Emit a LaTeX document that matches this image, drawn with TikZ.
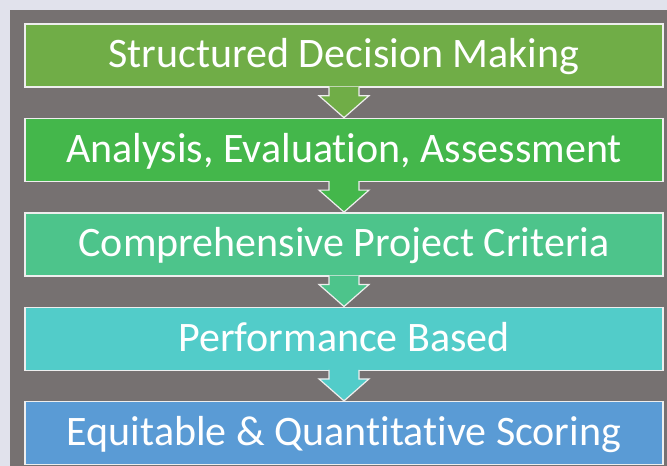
\documentclass[tikz,border=0pt]{standalone}
\usepackage{fontspec}
\setmainfont{Carlito}[Ligatures=NoCommon]
\usepackage{tikz}
\usetikzlibrary{positioning}
\definecolor{pageLavender}{HTML}{E1E2EC}
\definecolor{panelGrey}{HTML}{767171}
\definecolor{edgeWhite}{HTML}{EEEEEE}
\definecolor{oliveGreen}{HTML}{70AD47}
\definecolor{brightGreen}{HTML}{44B74B}
\definecolor{seaGreen}{HTML}{4DC48B}
\definecolor{tealCyan}{HTML}{52CCC9}
\definecolor{skyBlue}{HTML}{5A9BD5}

\begin{document}
\begin{tikzpicture} [
    x=1pt, y=-1pt,
    node distance=30pt,
    stepBox/.style={rectangle, draw=edgeWhite, line width=1.4pt, minimum width=638pt, minimum height=63pt, inner sep=0pt, text=white, text height=31.5pt, text depth=6.7pt, font=\fontsize{42}{44}\selectfont},
    flowArrow/.style={draw=edgeWhite, line width=1.2pt, line join=miter}
]
    % background
    \fill[pageLavender] (0, 0) rectangle (667, 466);
    \fill[panelGrey] (10, 10) rectangle (667, 466);
    \useasboundingbox (0, 0) rectangle (667, 466);

    % boxes
    \node[stepBox, fill=oliveGreen] (decision) at (344, 55.5) {Structured Decision Making};
    \node[stepBox, fill=brightGreen, below=of decision] (analysis) {Analysis, Evaluation, Assessment};
    \node[stepBox, fill=seaGreen, below=of analysis] (criteria) {Comprehensive Project Criteria};
    \node[stepBox, fill=tealCyan, below=of criteria] (performance) {Performance Based};
    \node[stepBox, fill=skyBlue, below=of performance] (scoring) {Equitable \& Quantitative Scoring};

    % arrows
    \filldraw[flowArrow, fill=oliveGreen] (decision.south) ++(-15, -1) -- ++(0, 9) -- ++(-10, 0) -- (analysis.north) -- ++(25, -22) -- ++(-10, 0) -- ++(0, -9);
    \filldraw[flowArrow, fill=brightGreen] (analysis.south) ++(-15, -1) -- ++(0, 9) -- ++(-10, 0) -- (criteria.north) -- ++(25, -22) -- ++(-10, 0) -- ++(0, -9);
    \filldraw[flowArrow, fill=seaGreen] (criteria.south) ++(-15, -1) -- ++(0, 9) -- ++(-10, 0) -- (performance.north) -- ++(25, -22) -- ++(-10, 0) -- ++(0, -9);
    \filldraw[flowArrow, fill=tealCyan] (performance.south) ++(-15, -1) -- ++(0, 9) -- ++(-10, 0) -- (scoring.north) -- ++(25, -22) -- ++(-10, 0) -- ++(0, -9);
\end{tikzpicture}
\end{document}
